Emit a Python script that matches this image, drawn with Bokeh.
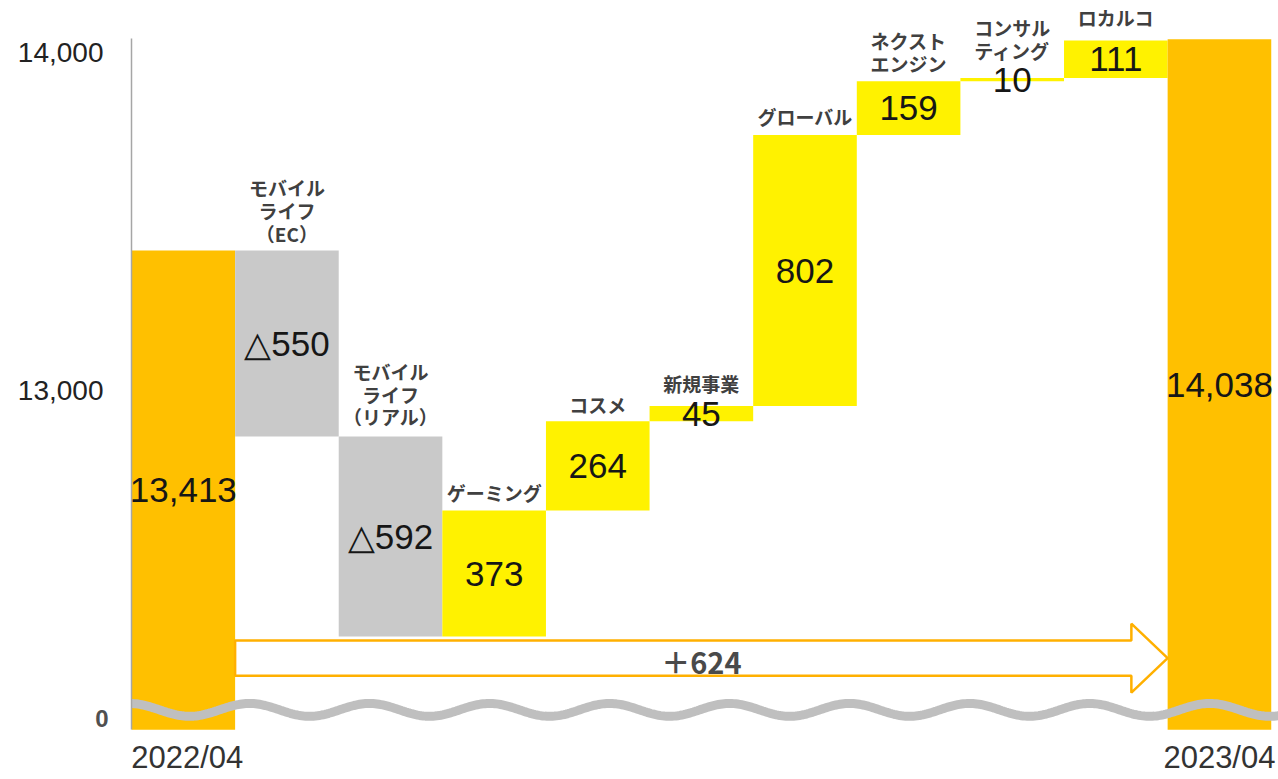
import numpy as np
from bokeh.plotting import figure
from bokeh.models import FixedTicker, NumeralTickFormatter, ColumnDataSource, LinearAxis
from bokeh.core.properties import value
from bokeh.embed import file_html
from bokeh.resources import INLINE

# ---------------- data ----------------
period_labels = ["2022/04", "2023/04"]
segments = ["モバイル\nライフ\n（EC）", "モバイル\nライフ\n（リアル）", "ゲーミング", "コスメ",
            "新規事業", "グローバル", "ネクスト\nエンジン", "コンサル\nティング", "ロカルコ"]
start_total = 13413
segment_changes = [-550, -592, 373, 264, 45, 802, 159, 10, 111]
end_total = 14038
net_change = 624
y_tick_values = [13000, 14000]
axis_break_base = 11995      # where the broken axis sits (shown as "0")
zero_label_value = 12028

# ---------------- style ----------------
ORANGE = "#FFC000"
YELLOW = "#FFF200"
GRAY = "#C9C9C9"
ARROW = "#FFB000"
WAVE = "#BFBFBF"
label_offset_px = [4, 6, 4, 3, 9, 5, 4, 14, 9]
period_label_y = 11912
period_label_dx = [4, 0]

# ---------------- derived geometry ----------------
n = len(segments) + 2
xs = list(range(n))
bottoms, tops, colors, vtexts = [], [], [], []
bottoms.append(axis_break_base); tops.append(start_total); colors.append(ORANGE)
vtexts.append(f"{start_total:,}")
run = start_total
for d in segment_changes:
    bottoms.append(min(run, run + d)); tops.append(max(run, run + d))
    colors.append(YELLOW if d > 0 else GRAY)
    vtexts.append(str(d) if d > 0 else "△" + str(abs(d)))
    run += d
bottoms.append(axis_break_base); tops.append(end_total); colors.append(ORANGE)
vtexts.append(f"{end_total:,}")

bars = ColumnDataSource(dict(left=[x - 0.5 for x in xs], right=[x + 0.5 for x in xs],
                             bottom=bottoms, top=tops, color=colors,
                             x=xs, mid=[(b + t) / 2 for b, t in zip(bottoms, tops)], text=vtexts))
cats = ColumnDataSource(dict(x=xs[1:-1], y=tops[1:-1], text=segments,
                             yoff=[-g for g in label_offset_px]))
periods = ColumnDataSource(dict(x=[0, n - 1], y=[period_label_y] * 2, text=period_labels,
                                dx=period_label_dx))

p = figure(width=1278, height=779, x_range=(-0.5, 10.57), y_range=(11848, 14153),
           output_backend="svg", toolbar_location=None,
           min_border_left=131, min_border_right=0, min_border_top=0, min_border_bottom=0)
p.outline_line_color = None
p.grid.visible = False
p.background_fill_color = "white"
p.xaxis.visible = False

p.quad(left="left", right="right", bottom="bottom", top="top", fill_color="color",
       line_color=None, source=bars)

p.text(x="x", y="mid", text="text", source=bars, text_align="center", text_baseline="middle",
       text_font=value("Liberation Sans"), text_font_size="35px", text_color="#161616")

p.text(x="x", y="y", text="text", y_offset="yoff", source=cats, text_align="center",
       text_baseline="bottom", text_font=value("Noto Sans CJK JP"), text_font_style="bold",
       text_font_size="19px", text_color="#404040", text_line_height=0.85)

# period labels under the total bars
p.text(x="x", y="y", text="text", x_offset="dx", source=periods,
       text_align="center", text_baseline="middle", text_font=value("Liberation Sans"),
       text_font_size="31px", text_color="#333333")

# arrow showing net change
x0 = 0.5
x_tip = n - 1.5
x_head = x_tip - 0.35
yc, hs, hh = 12207, 52, 102
p.patch([x0, x_head, x_head, x_tip, x_head, x_head, x0],
        [yc + hs, yc + hs, yc + hh, yc, yc - hh, yc - hs, yc - hs],
        fill_color="white", line_color=ARROW, line_width=2.5)
p.text(x=[(n - 1) / 2], y=[yc], text=["＋" + str(net_change)], text_align="center",
       text_baseline="middle", y_offset=3, text_font=value("Noto Sans CJK JP"),
       text_font_style="bold", text_font_size="29px", text_color="#4a4a4a")

# broken-axis wave
wx = np.linspace(-0.55, 10.6, 600)
period = 120 / 103.6
wy = 12054 - 19 * np.cos(2 * np.pi * (wx - 0.06) / period)
p.line(wx, wy, line_color=WAVE, line_width=9)

# inner y axis: the "0" of the broken axis, plus the axis line
ya = p.yaxis[0]
ya.ticker = FixedTicker(ticks=[zero_label_value])
ya.major_label_overrides = {zero_label_value: "0"}
ya.major_label_text_font = "Liberation Sans"
ya.major_label_text_font_size = "24px"
ya.major_label_text_font_style = "bold"
ya.major_label_text_color = "#505050"
ya.major_tick_line_color = None
ya.minor_tick_line_color = None
ya.major_tick_out = 0
ya.major_tick_in = 0
ya.minor_tick_out = 0
ya.axis_line_color = "#A6A6A6"
ya.axis_line_width = 1.5
ya.major_label_standoff = 23
ya.bounds = (axis_break_base, 14040)

# outer y axis: value ticks
yb = LinearAxis(ticker=FixedTicker(ticks=y_tick_values), formatter=NumeralTickFormatter(format="0,0"))
yb.major_label_text_font = "Liberation Sans"
yb.major_label_text_font_size = "28px"
yb.major_label_text_color = "#222222"
yb.major_tick_line_color = None
yb.minor_tick_line_color = None
yb.major_tick_out = 0
yb.major_tick_in = 0
yb.minor_tick_out = 0
yb.axis_line_color = None
yb.major_label_standoff = -11
p.add_layout(yb, "left")

open("out.html", "w").write(file_html(p, INLINE))
